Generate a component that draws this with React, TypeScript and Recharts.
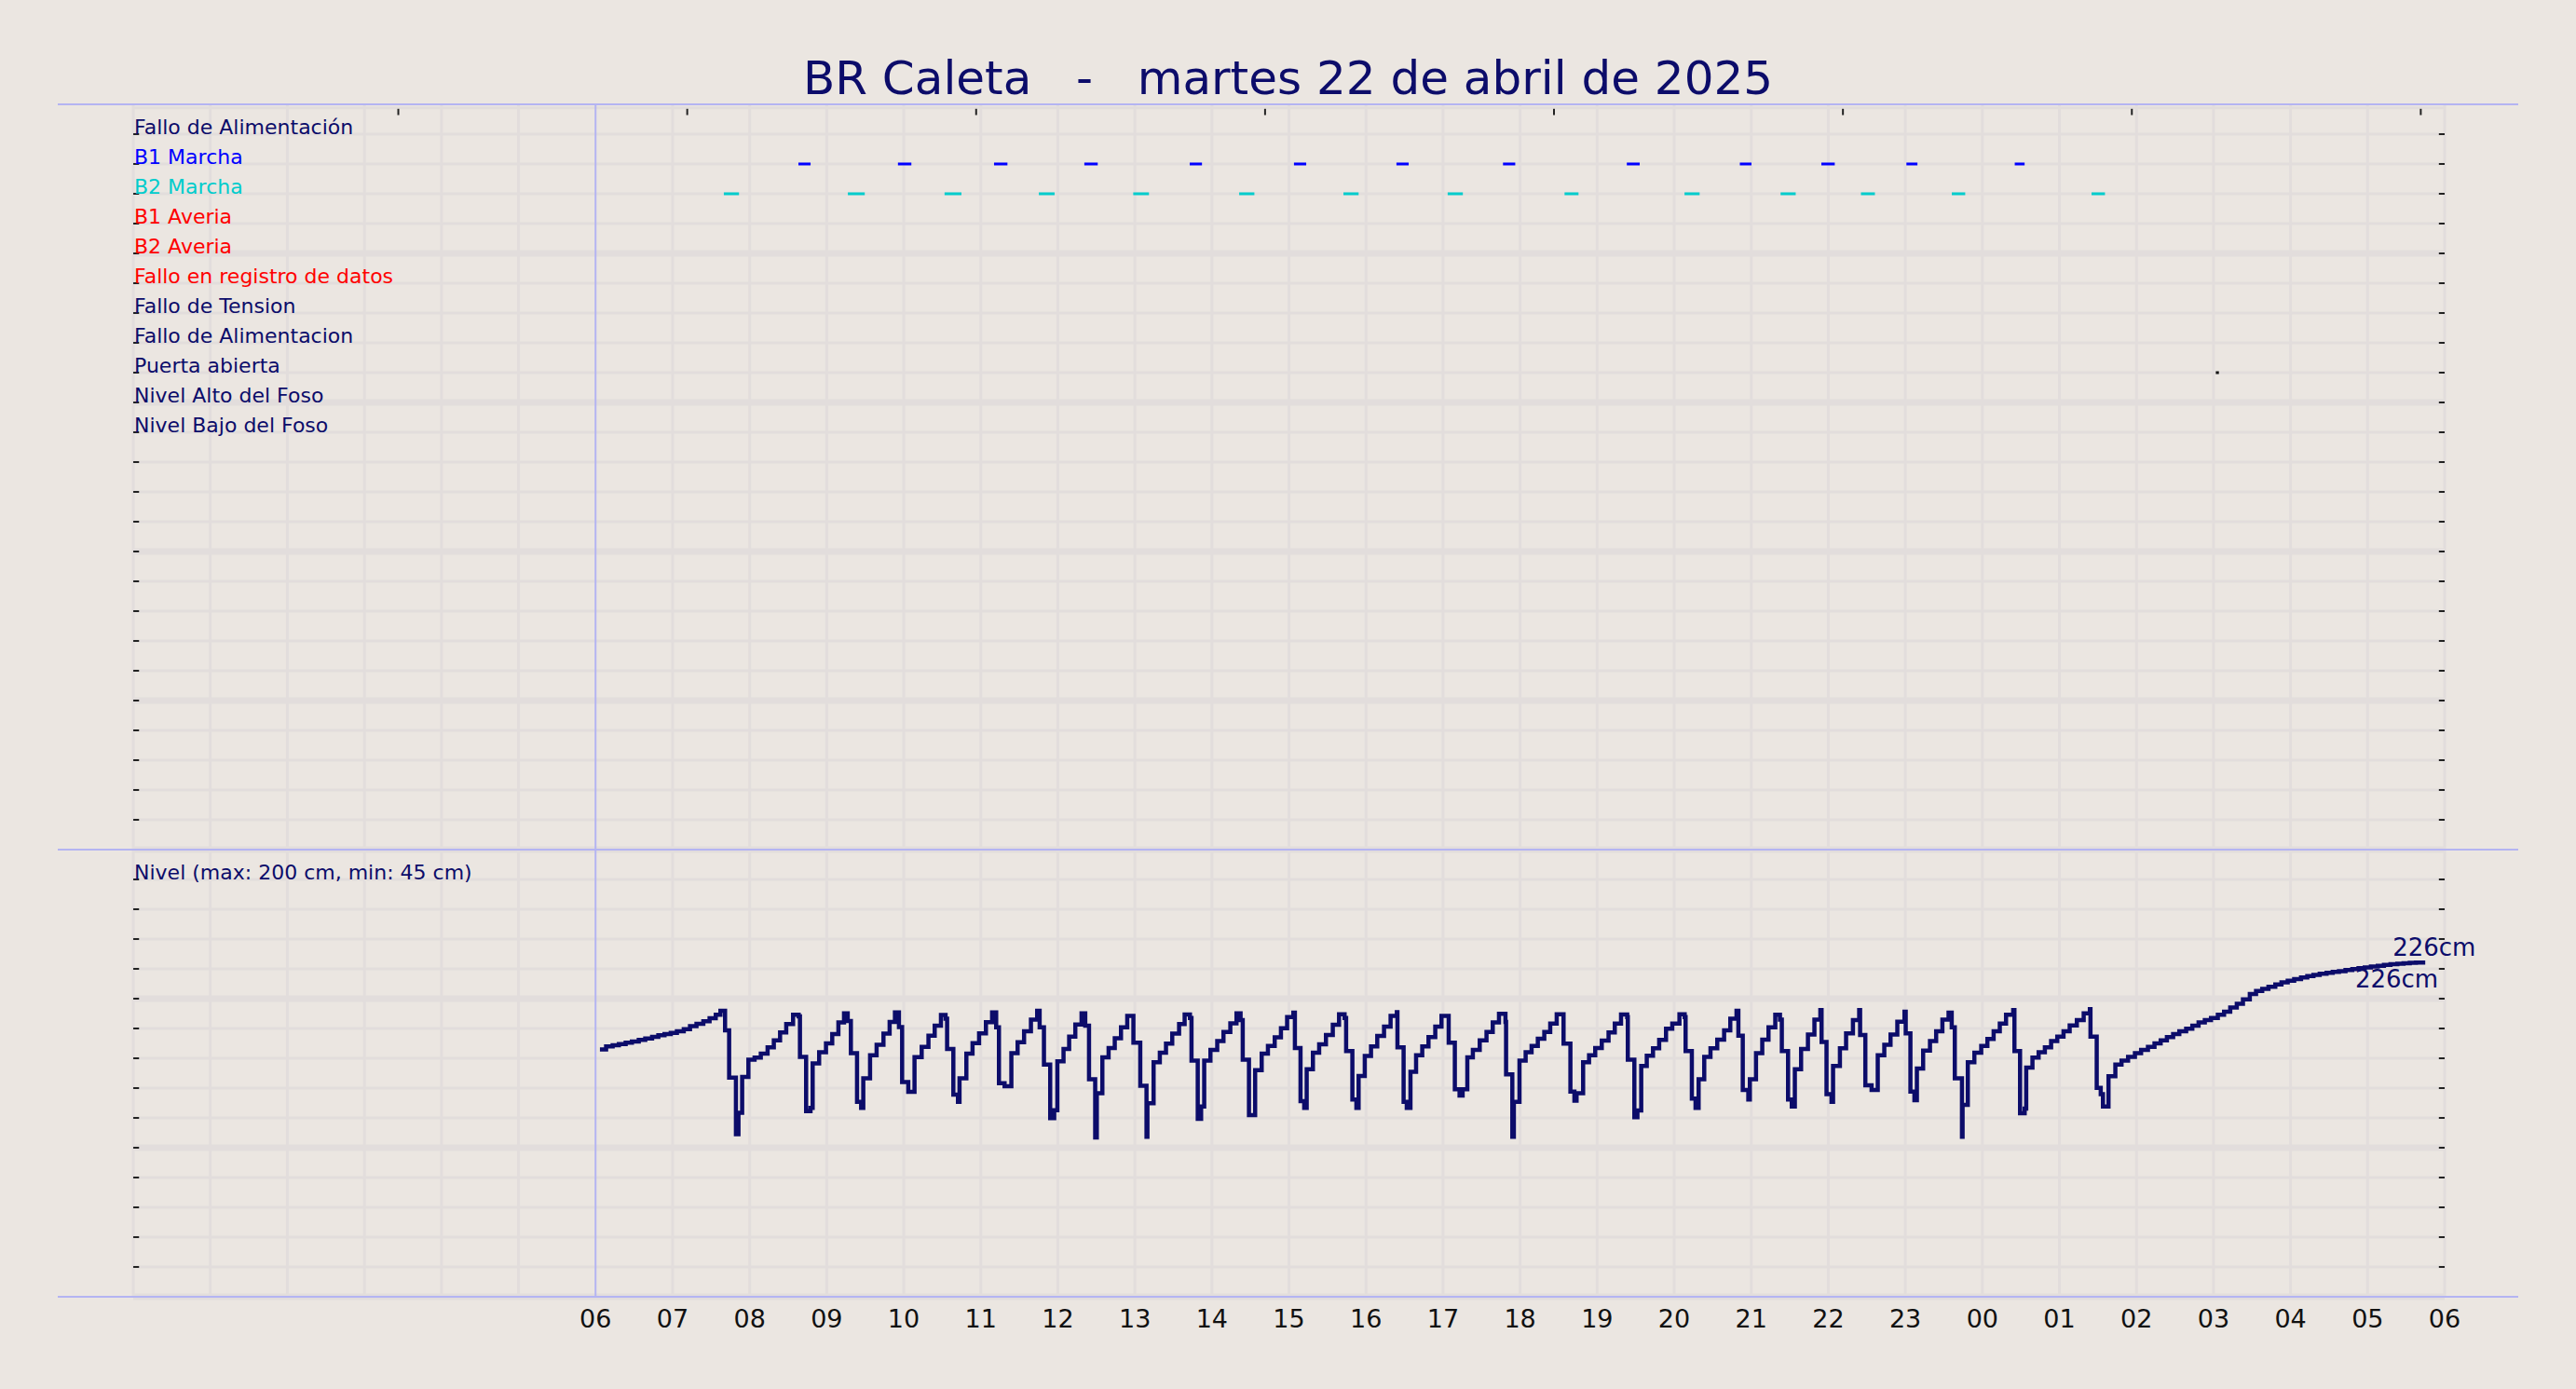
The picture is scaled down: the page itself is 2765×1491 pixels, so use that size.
import React from 'react';
import { ComposedChart, Line, XAxis, YAxis, ReferenceLine, ReferenceDot } from 'recharts';

const TITLE = 'BR Caleta   -   martes 22 de abril de 2025';

const rowLabels = [
  'Fallo de Alimentación',
  'B1 Marcha',
  'B2 Marcha',
  'B1 Averia',
  'B2 Averia',
  'Fallo en registro de datos',
  'Fallo de Tension',
  'Fallo de Alimentacion',
  'Puerta abierta',
  'Nivel Alto del Foso',
  'Nivel Bajo del Foso',
];
const rowColors = [
  '#0c0c6a', '#0000ff', '#00cccc', '#ff0000', '#ff0000', '#ff0000',
  '#0c0c6a', '#0c0c6a', '#0c0c6a', '#0c0c6a', '#0c0c6a',
];
const levelLabel = 'Nivel (max: 200 cm, min: 45 cm)';
const endLabel = '226cm';

const hourTicks = [6, 7, 8, 9, 10, 11, 12, 13, 14, 15, 16, 17, 18, 19, 20, 21, 22, 23, 24, 25, 26, 27, 28, 29, 30];
const hourTickLabels = ['06', '07', '08', '09', '10', '11', '12', '13', '14', '15', '16', '17', '18', '19', '20', '21', '22', '23', '00', '01', '02', '03', '04', '05', '06'];
const topTicks = [3.44, 7.19, 10.94, 14.69, 18.44, 22.19, 25.94, 29.69];

// pump running intervals (hours since 00:00 of the 22nd)
const b1Runs = [
  [8.633, 8.791], [9.925, 10.099], [11.172, 11.346], [12.344, 12.518], [13.712, 13.871],
  [15.065, 15.224], [16.395, 16.554], [17.778, 17.937], [19.385, 19.552], [20.852, 21.003],
  [21.91, 22.084], [23.014, 23.157], [24.42, 24.548],
];
const b2Runs = [
  [7.665, 7.862], [9.275, 9.494], [10.53, 10.749], [11.754, 11.958], [12.979, 13.183],
  [14.354, 14.551], [15.707, 15.904], [17.06, 17.257], [18.577, 18.758], [20.134, 20.33],
  [21.381, 21.577], [22.424, 22.605], [23.603, 23.777], [25.417, 25.591],
];
const doorRuns = [[27.03, 27.07]];

// level readings [hour, cm]
const levelMorning = [
  [6.057, 166.0], [6.137, 167.9], [6.222, 168.8], [6.303, 169.6], [6.391, 170.4], [6.472, 171.3], [6.561, 172.3],
  [6.645, 173.3], [6.734, 174.4], [6.815, 175.4], [6.895, 176.3], [6.976, 177.1], [7.056, 178.1], [7.145, 179.6],
  [7.226, 181.5], [7.31, 183.1], [7.399, 184.8], [7.48, 186.9], [7.56, 189.2], [7.621, 191.9],
  [7.681, 178.8], [7.734, 147.1], [7.822, 109.0], [7.855, 123.5], [7.903, 147.5], [7.984, 159.0], [8.064, 160.4],
  [8.145, 163.1], [8.233, 167.3], [8.314, 172.1], [8.395, 177.3], [8.475, 182.9], [8.564, 189.2], [8.636, 188.1],
  [8.653, 161.0], [8.733, 124.6], [8.79, 126.7], [8.818, 156.5], [8.902, 164.0], [8.991, 170.0], [9.072, 176.3],
  [9.152, 184.0], [9.225, 190.2], [9.273, 185.0],
  [9.314, 163.5], [9.394, 130.8], [9.447, 126.7], [9.475, 146.5], [9.563, 162.1], [9.648, 169.0], [9.737, 176.5],
  [9.817, 184.4], [9.886, 190.8], [9.938, 181.0],
  [9.979, 144.0], [10.059, 137.5], [10.14, 160.8], [10.233, 167.7], [10.321, 175.2], [10.402, 181.9], [10.483, 189.0],
  [10.543, 186.5],
  [10.563, 166.3], [10.644, 135.6], [10.704, 130.8], [10.724, 146.5], [10.813, 163.1], [10.893, 170.2], [10.978, 176.7],
  [11.067, 184.2], [11.147, 190.8], [11.2, 180.8],
];
const levelMidday = [
  [11.236, 143.3], [11.309, 141.3], [11.397, 163.5], [11.478, 170.8], [11.562, 178.1], [11.651, 186.0], [11.732, 191.9],
  [11.764, 180.8],
  [11.82, 155.8], [11.901, 119.8], [11.953, 125.2], [11.994, 157.9], [12.074, 166.3], [12.147, 174.6], [12.227, 182.7],
  [12.308, 190.2], [12.356, 181.9],
  [12.405, 146.0], [12.485, 106.9], [12.506, 136.5], [12.578, 160.6], [12.659, 166.9], [12.739, 173.5], [12.82, 180.8],
  [12.901, 188.5],
  [12.981, 170.4], [13.07, 141.5], [13.151, 107.3], [13.163, 129.8], [13.243, 157.3], [13.324, 163.8], [13.404, 169.8],
  [13.485, 176.5], [13.574, 182.9], [13.646, 189.4], [13.715, 187.1],
  [13.735, 158.5], [13.816, 119.4], [13.86, 127.7], [13.9, 158.5], [13.981, 165.6], [14.069, 171.5], [14.15, 177.7],
  [14.239, 183.5], [14.319, 190.2], [14.372, 185.6],
  [14.4, 159.0], [14.481, 121.9], [14.561, 152.1], [14.646, 163.1], [14.727, 168.3], [14.815, 174.0], [14.896, 180.2],
  [14.976, 187.7], [15.057, 190.6],
  [15.077, 166.9], [15.15, 131.3], [15.198, 126.7], [15.23, 152.7], [15.311, 163.8], [15.392, 169.4], [15.48, 175.6],
  [15.569, 182.5], [15.65, 189.6], [15.722, 187.1],
  [15.742, 164.8], [15.823, 132.3], [15.875, 126.7], [15.904, 148.1], [15.984, 161.5],
];
const levelAfternoon = [
  [16.065, 167.9], [16.146, 175.0], [16.234, 181.3], [16.319, 188.5], [16.4, 191.0],
  [16.408, 167.3], [16.488, 130.8], [16.529, 126.7], [16.577, 151.0], [16.65, 162.1], [16.73, 167.9], [16.811, 174.2],
  [16.899, 181.3], [16.98, 188.5],
  [17.073, 170.4], [17.153, 139.2], [17.214, 135.0], [17.254, 139.2], [17.315, 160.6], [17.387, 165.6], [17.476, 172.1],
  [17.564, 177.7], [17.645, 184.0], [17.726, 189.8], [17.81, 184.4],
  [17.818, 149.2], [17.899, 107.3], [17.919, 130.8], [17.992, 158.5], [18.072, 164.0], [18.149, 168.3], [18.23, 173.1],
  [18.314, 177.7], [18.391, 183.3], [18.475, 189.6],
  [18.564, 169.8], [18.653, 137.7], [18.705, 131.5], [18.733, 136.5], [18.818, 157.3], [18.895, 162.1], [18.975, 166.9],
  [19.06, 171.9], [19.148, 177.3], [19.229, 183.3], [19.31, 189.4], [19.39, 187.7],
  [19.398, 159.0], [19.483, 120.4], [19.523, 125.0], [19.572, 154.8], [19.644, 161.7], [19.725, 166.7], [19.805, 172.3],
  [19.894, 179.8], [19.975, 183.3], [20.068, 189.6], [20.136, 187.7],
  [20.148, 164.8], [20.229, 132.9], [20.277, 126.7], [20.317, 146.0], [20.39, 161.0], [20.471, 166.7], [20.559, 172.5],
  [20.648, 178.8], [20.728, 186.5], [20.809, 191.9],
  [20.833, 175.2], [20.89, 138.8], [20.962, 132.3], [20.982, 146.0],
];
const levelNight = [
  [21.062, 163.5], [21.143, 172.5], [21.224, 180.8], [21.312, 189.2], [21.373, 186.0],
  [21.397, 164.8], [21.478, 132.3], [21.526, 127.7], [21.566, 152.7], [21.647, 166.3], [21.736, 176.0], [21.82, 186.0],
  [21.897, 192.3],
  [21.913, 171.0], [21.977, 136.0], [22.042, 130.8], [22.062, 154.8], [22.151, 166.7], [22.231, 176.7], [22.32, 185.6],
  [22.401, 192.3],
  [22.413, 175.6], [22.481, 141.9], [22.562, 138.8], [22.642, 162.1], [22.727, 169.0], [22.808, 176.0], [22.896, 184.6],
  [22.989, 191.3],
  [23.005, 176.7], [23.066, 137.7], [23.118, 131.9], [23.15, 153.1], [23.231, 165.2], [23.32, 171.5], [23.4, 178.1],
  [23.481, 186.0], [23.561, 190.6],
  [23.602, 180.8], [23.642, 146.5], [23.735, 107.3], [23.743, 128.8], [23.811, 157.3], [23.896, 163.8], [23.985, 168.3],
  [24.065, 172.9], [24.146, 178.1], [24.226, 183.3], [24.307, 189.2], [24.4, 192.3],
  [24.416, 164.8], [24.489, 123.1], [24.549, 126.3], [24.569, 153.8], [24.65, 160.4], [24.73, 164.0], [24.811, 167.3],
  [24.892, 171.5], [24.972, 174.6], [25.053, 178.1], [25.133, 182.0], [25.226, 185.6], [25.315, 190.2], [25.395, 192.9],
  [25.403, 174.6], [25.484, 140.2], [25.536, 136.0], [25.565, 127.7], [25.637, 147.9], [25.726, 155.8], [25.806, 158.5],
  [25.891, 161.0], [25.98, 163.5], [26.06, 165.6], [26.149, 167.7], [26.234, 170.0], [26.314, 172.1], [26.395, 174.2],
  [26.476, 176.3], [26.556, 178.1], [26.645, 179.8], [26.725, 181.9], [26.806, 184.0], [26.887, 185.6], [26.967, 187.1],
  [27.056, 189.2], [27.137, 191.3], [27.217, 194.0], [27.302, 196.5], [27.382, 199.6], [27.471, 203.1], [27.552, 205.2],
  [27.632, 206.5], [27.713, 207.9], [27.802, 209.6], [27.882, 211.0], [27.963, 212.1], [28.047, 213.1], [28.136, 214.2],
  [28.217, 215.2], [28.297, 216.0], [28.378, 216.7], [28.467, 217.3], [28.547, 217.9], [28.628, 218.5], [28.713, 219.2],
  [28.801, 219.8], [28.882, 220.4], [28.963, 221.0], [29.043, 221.5], [29.132, 222.1], [29.212, 222.7], [29.297, 223.1],
  [29.386, 223.5], [29.466, 223.8], [29.547, 224.0], [29.627, 224.2], [29.748, 224.2],
];

const W = 2765;
const H = 1491;
const FONT = '"DejaVu Sans", sans-serif';
const NAVY = '#0c0c6a';
const GRID = '#e2dddc';
const SPINE = '#b4b4f2';
const BG = '#ebe6e1';
const TICK = '#222222';

const gridHours = Array.from({ length: 31 }, (_, i) => i).filter((h) => h !== 6);
const gridRows = Array.from({ length: 41 }, (_, i) => i);
const tickRows = gridRows.filter((r) => r !== 0 && r !== 25 && r !== 40);

export default function App() {
  const levelData = [...levelMorning, ...levelMidday, ...levelAfternoon, ...levelNight].map(([t, v]) => ({ t, v }));
  const last = levelData[levelData.length - 1];

  return (
    <div style={{ position: 'absolute', left: 0, top: 0, width: W, height: H, background: BG, overflow: 'hidden', fontFamily: FONT }}>
      <div
        style={{
          position: 'absolute', left: 0, top: 59, width: W, textAlign: 'center', fontSize: 50,
          lineHeight: '50px', color: NAVY, whiteSpace: 'pre', fontFamily: FONT,
        }}
      >
        {TITLE}
      </div>
      <div style={{ position: 'absolute', left: 0, top: 0 }}>
        <ComposedChart width={W} height={H} margin={{ top: 112, right: 62, bottom: 39, left: 62 }}>
          <XAxis
            type="number"
            dataKey="t"
            domain={[-0.98, 30.955]}
            allowDataOverflow
            ticks={hourTicks}
            interval={0}
            tickFormatter={(v) => hourTickLabels[hourTicks.indexOf(v)]}
            axisLine={false}
            tickLine={false}
            tickSize={6}
            tickMargin={8}
            height={60}
            tick={{ fontSize: 27, fill: '#111111', fontFamily: FONT }}
          />
          <YAxis type="number" domain={[0, 40]} reversed hide allowDataOverflow />
          <YAxis yAxisId="lvl" type="number" domain={[0, 800]} hide allowDataOverflow />

          {gridHours.map((h) => (
            <ReferenceLine key={'gv' + h} x={h} stroke={GRID} strokeWidth={3} zIndex={-50} />
          ))}
          {gridRows.map((r) => (
            <ReferenceLine
              key={'gh' + r}
              segment={[{ x: 0, y: r + (r === 0 ? 0.12 : 0) }, { x: 30, y: r + (r === 0 ? 0.12 : 0) }]}
              stroke={GRID}
              strokeWidth={r % 5 === 0 && r !== 0 ? 7 : 3}
              zIndex={-50}
            />
          ))}

          <ReferenceLine y={0} stroke={SPINE} strokeWidth={2} zIndex={-40} />
          <ReferenceLine y={25} stroke={SPINE} strokeWidth={2} zIndex={-40} />
          <ReferenceLine y={40} stroke={SPINE} strokeWidth={2} zIndex={-40} />
          <ReferenceLine x={6} stroke={SPINE} strokeWidth={2} zIndex={-40} />

          {tickRows.map((r) => (
            <ReferenceLine key={'tl' + r} segment={[{ x: 0, y: r }, { x: 0.075, y: r }]} stroke={TICK} strokeWidth={2} />
          ))}
          {tickRows.map((r) => (
            <ReferenceLine key={'tr' + r} segment={[{ x: 29.925, y: r }, { x: 30, y: r }]} stroke={TICK} strokeWidth={2} />
          ))}
          {topTicks.map((h) => (
            <ReferenceLine key={'tt' + h} segment={[{ x: h, y: 0.15 }, { x: h, y: 0.36 }]} stroke={TICK} strokeWidth={2} />
          ))}

          {b1Runs.map(([s, e], i) => (
            <ReferenceLine key={'b1' + i} segment={[{ x: s, y: 2 }, { x: e, y: 2 }]} stroke="#0000ff" strokeWidth={3} />
          ))}
          {b2Runs.map(([s, e], i) => (
            <ReferenceLine key={'b2' + i} segment={[{ x: s, y: 3 }, { x: e, y: 3 }]} stroke="#00cccc" strokeWidth={3} />
          ))}
          {doorRuns.map(([s, e], i) => (
            <ReferenceLine key={'dr' + i} segment={[{ x: s, y: 9 }, { x: e, y: 9 }]} stroke="#111111" strokeWidth={3} />
          ))}

          {rowLabels.map((lab, i) => (
            <ReferenceDot
              key={'lab' + i}
              x={0}
              y={i + 1}
              r={1}
              shape={(p: any) => (
                <text x={p.cx + 1} y={p.cy} fill={rowColors[i]} fontSize={22} fontFamily={FONT}>
                  {lab}
                </text>
              )}
            />
          ))}
          <ReferenceDot
            x={0}
            y={26}
            r={1}
            shape={(p: any) => (
              <text x={p.cx + 1} y={p.cy} fill={NAVY} fontSize={22} fontFamily={FONT}>
                {levelLabel}
              </text>
            )}
          />

          <Line
            data={levelData}
            dataKey="v"
            yAxisId="lvl"
            type="stepAfter"
            stroke={NAVY}
            strokeWidth={4.5}
            dot={false}
            activeDot={false}
            isAnimationActive={false}
          />

          <ReferenceDot
            x={last.t}
            y={last.v}
            yAxisId="lvl"
            r={1}
            shape={(p: any) => (
              <g>
                <text x={p.cx - 35} y={p.cy - 7} fill={NAVY} fontSize={26} fontFamily={FONT}>
                  {endLabel}
                </text>
                <text x={p.cx + 14} y={p.cy + 27} fill={NAVY} fontSize={26} fontFamily={FONT} textAnchor="end">
                  {endLabel}
                </text>
              </g>
            )}
          />
        </ComposedChart>
      </div>
    </div>
  );
}
